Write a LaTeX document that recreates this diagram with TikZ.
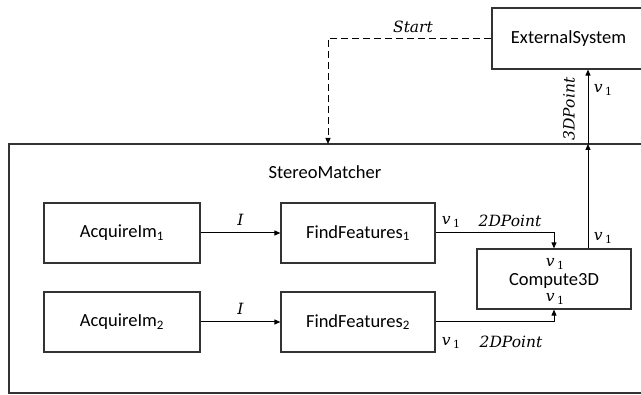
\documentclass[tikz,border=0pt]{standalone}
\usepackage{fontspec}
\setmainfont{Carlito}
\newfontfamily\lblf{DejaVu Serif}
\usetikzlibrary{arrows.meta}
\newcommand\vone{{\lblf\itshape v\,\raisebox{-0.35ex}{\upshape\fontsize{11}{12}\selectfont 1}}}
\newcommand\lbltext[1]{{\lblf\itshape #1}}
\begin{document}
\begin{tikzpicture}[x=1pt,y=-1pt,
  box/.style={draw=black!80,line width=1.2pt,minimum width=154pt,minimum height=60pt,inner sep=0pt,font=\fontsize{18.5}{21}\selectfont},
  conn/.style={line width=1pt,-{Triangle[length=6pt,width=5pt]}},
  lbl/.style={inner sep=0pt,font=\fontsize{15.5}{18}\selectfont}]
\useasboundingbox (0,0) rectangle (641,395);
\node[box,minimum width=636pt,minimum height=249pt] (sm) at (327,268.5) {};
\node[lbl,font=\fontsize{18.5}{21}\selectfont] (smlbl) at (325,172) {StereoMatcher};
\node[box,minimum width=153pt,minimum height=61pt] (es) at (568.5,38.5) {ExternalSystem};
\node[box,minimum width=156pt] (a1) at (122,233) {AcquireIm\textsubscript{1}};
\node[box,minimum width=156pt] (a2) at (122,322) {AcquireIm\textsubscript{2}};
\node[box] (f1) at (358,233) {FindFeatures\textsubscript{1}};
\node[box] (f2) at (358,322) {FindFeatures\textsubscript{2}};
\node[box] (c3) at (554,279) {};
\node[lbl] (c3top) at (555,264) {\vone};
\node[font=\fontsize{18.5}{21}\selectfont,inner sep=0pt] (c3name) at (554,281) {Compute3D};
\node[lbl] (c3bot) at (555,299) {\vone};
\coordinate (up) at (588,144);
\coordinate (sb) at (328,144);
\coordinate (j1) at (554,233);
\coordinate (j2) at (554,322);
% arrows
\draw[conn] (a1.east) -- node[lbl,above=7pt] {\lbltext{I}} (f1.west);
\draw[conn] (a2.east) -- node[lbl,above=7pt] {\lbltext{I}} (f2.west);
\draw[conn] (f1.east |- j1) -- (j1) -- (j1 |- c3.north);
\draw[conn] (f2.east |- j2) -- (j2) -- (j2 |- c3.south);
\draw[conn] (up |- c3.north) -- (up);
\draw[conn] (up) -- (up |- es.south);
\draw[conn,dashed,dash pattern=on 7pt off 4pt] (es.west) -| (sb);
% labels
\node[lbl] at (413,27) {\lbltext{Start}};
\node[lbl,rotate=90] at (569,109) {\lbltext{3DPoint}};
\node[lbl] at (603,90) {\vone};
\node[lbl] at (603,238) {\vone};
\node[lbl] at (451,222) {\vone};
\node[lbl] at (510,221) {\lbltext{2DPoint}};
\node[lbl] at (451,343) {\vone};
\node[lbl] at (511,342) {\lbltext{2DPoint}};
\end{tikzpicture}
\end{document}
